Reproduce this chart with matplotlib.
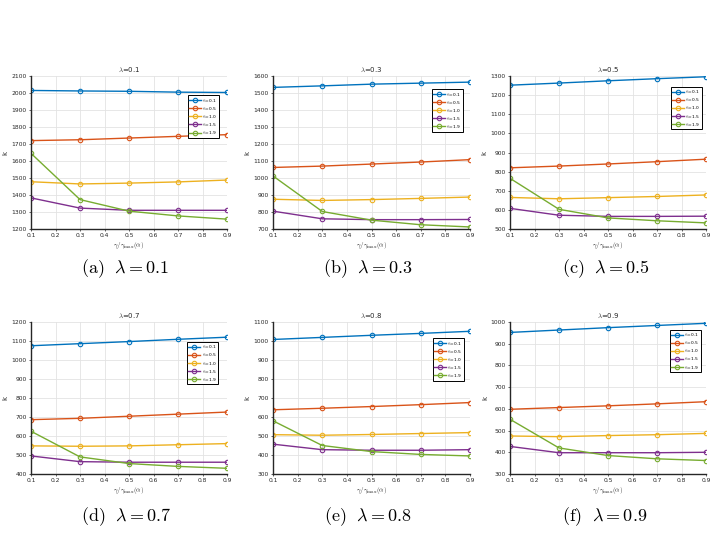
import numpy as np
import matplotlib.pyplot as plt

plt.rcParams['mathtext.fontset'] = 'cm'

# x values: gamma / gamma_max
gam = [0.1, 0.3, 0.5, 0.7, 0.9]
alphas = ["0.1", "0.5", "1.0", "1.5", "1.9"]
lambdas = ["0.1", "0.3", "0.5", "0.7", "0.8", "0.9"]
letters = ["a", "b", "c", "d", "e", "f"]

# k values, one list per alpha, one block per lambda
k_l01 = [[2015, 2012, 2010, 2005, 2003],
         [1720, 1725, 1735, 1745, 1755],
         [1478, 1465, 1470, 1477, 1488],
         [1383, 1323, 1310, 1310, 1310],
         [1645, 1373, 1305, 1277, 1258]]
k_l03 = [[1533, 1542, 1552, 1558, 1564],
         [1062, 1070, 1082, 1094, 1108],
         [875, 868, 873, 880, 888],
         [805, 760, 755, 755, 756],
         [1012, 803, 752, 725, 712]]
k_l05 = [[1252, 1263, 1275, 1286, 1296],
         [820, 829, 840, 852, 865],
         [665, 658, 664, 670, 678],
         [608, 572, 566, 566, 567],
         [765, 603, 558, 543, 532]]
k_l07 = [[1075, 1086, 1097, 1109, 1120],
         [686, 693, 704, 715, 726],
         [548, 546, 548, 554, 560],
         [495, 465, 462, 462, 462],
         [625, 490, 455, 440, 430]]
k_l08 = [[1008, 1019, 1030, 1040, 1051],
         [638, 646, 655, 665, 676],
         [507, 504, 508, 513, 518],
         [457, 428, 425, 425, 428],
         [580, 450, 418, 403, 395]]
k_l09 = [[952, 963, 974, 984, 994],
         [598, 606, 614, 623, 633],
         [475, 472, 477, 481, 487],
         [427, 398, 398, 398, 400],
         [552, 420, 385, 370, 362]]
all_k = [k_l01, k_l03, k_l05, k_l07, k_l08, k_l09]

ylims = [(1200, 2100), (700, 1600), (500, 1300), (400, 1200), (300, 1100), (300, 1000)]
colors = ["#0072BD", "#D95319", "#EDB120", "#7E2F8E", "#77AC30"]

W, H = 715, 536
lefts = [31, 273, 510]
widths = [196, 197, 196]
rows = [(76, 229), (322, 474)]
cap_y = [269, 517]
leg_anchor = [(0.96, 0.875), (0.965, 0.915), (0.98, 0.93),
              (0.955, 0.87), (0.97, 0.895), (0.975, 0.95)]
cap_x = [125, 368, 606, 126, 368, 605]

fig = plt.figure(figsize=(W / 100, H / 100), dpi=100)

for i in range(6):
    r, c = divmod(i, 3)
    top, bot = rows[r]
    ax = fig.add_axes([lefts[c] / W, 1 - bot / H, widths[c] / W, (bot - top) / H])
    for j in range(5):
        ax.plot(gam, all_k[i][j], color=colors[j], lw=1.0, marker='o', ms=3.2,
                mfc='none', mew=0.8, label=r'$\alpha$=' + alphas[j])
    ax.set_xlim(0.1, 0.9)
    ax.set_ylim(*ylims[i])
    ax.set_xticks(np.arange(0.1, 0.91, 0.1))
    ax.set_xticklabels([f"{v:.1f}" for v in np.arange(0.1, 0.91, 0.1)])
    ax.set_yticks(np.arange(ylims[i][0], ylims[i][1] + 1, 100))
    ax.grid(True, color='#e3e3e3', lw=0.6)
    ax.set_axisbelow(True)
    ax.tick_params(labelsize=4.3, length=1.5, width=0.5, pad=1.5, colors='#262626')
    for s in ['top', 'right']:
        ax.spines[s].set_visible(False)
    for s in ['left', 'bottom']:
        ax.spines[s].set_color('#262626')
        ax.spines[s].set_linewidth(1.0)
    ax.set_title(r'$\lambda$=' + lambdas[i], fontsize=5, pad=3, color='#262626')
    ax.set_ylabel('k', fontsize=5, labelpad=2, color='#262626')
    ax.set_xlabel(r'$\gamma/\gamma_{\max}(\alpha)$', fontsize=5, labelpad=1.5, color='#262626')
    leg = ax.legend(loc='upper right', bbox_to_anchor=leg_anchor[i], fontsize=3.2,
                    fancybox=False, framealpha=1, edgecolor='black',
                    handlelength=2.7, borderpad=0.35, labelspacing=0.25,
                    handletextpad=0.3, borderaxespad=0)
    leg.get_frame().set_linewidth(0.7)
    fig.text(cap_x[i] / W, 1 - cap_y[r] / H,
             r'$\mathrm{(' + letters[i] + r')}\ \ \lambda = ' + lambdas[i] + '$',
             ha='center', va='center', fontsize=13)

fig.savefig('out.png', dpi=100)
